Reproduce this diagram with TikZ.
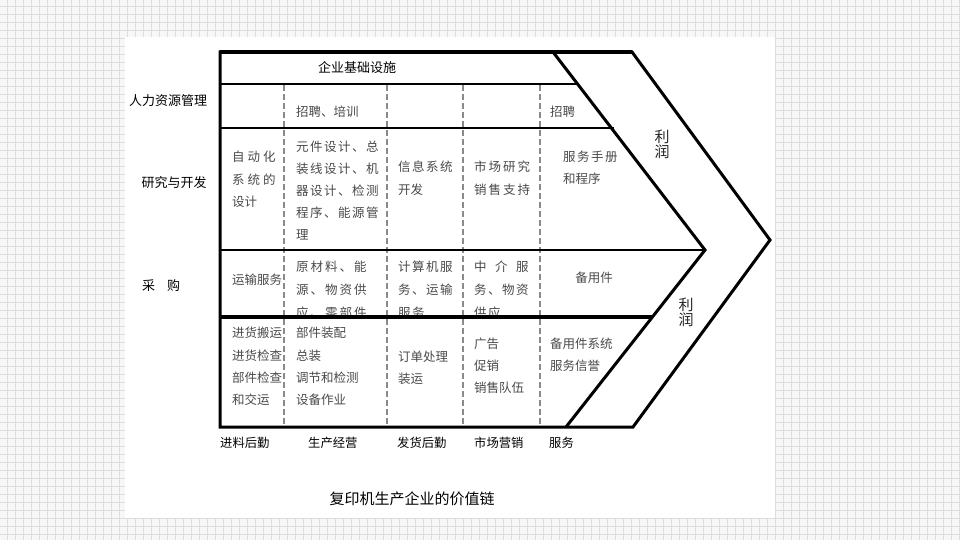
\documentclass[tikz,border=0pt]{standalone}
\usepackage{fontspec}
\IfFontExistsTF{FandolSong}{%
  \newfontfamily\song{FandolSong}}{%
  \IfFontExistsTF{gbsn00lp.ttf}{%
    \newfontfamily\song{gbsn00lp.ttf}}{%
    \newfontfamily\song{Noto Sans CJK SC}}}
\definecolor{gridbg}{HTML}{F7F7F7}
\definecolor{gridln}{HTML}{DDDDDD}
\definecolor{celltext}{HTML}{4A4A4A}
\definecolor{dashc}{HTML}{8A8A8A}
\newcommand\ga{\kern1.5pt}
\newcommand\gb{\kern2pt}
\newcommand\gc{\kern3pt}
\tikzset{
  cell/.style={anchor=west, inner sep=0pt, font=\song\fontsize{12.5}{15}\selectfont, text=celltext},
  sidelab/.style={inner sep=0pt, font=\song\fontsize{13}{15}\selectfont, text=black},
  botlab/.style={anchor=west, inner sep=0pt, font=\song\fontsize{12.3}{15}\selectfont, text=black},
  profit/.style={inner sep=0pt, font=\song\fontsize{15}{15}\selectfont, text=black!85},
  frame/.style={line width=3pt, line join=miter, black},
  rowline/.style={black},
  coldash/.style={draw=dashc, line width=1.8pt, dash pattern=on 6pt off 3pt},
  gridl/.style={draw=gridln, line width=0.9pt}
}
\begin{document}
\begin{tikzpicture}[x=1pt,y=-1pt]
\useasboundingbox (0,0) rectangle (960,540);
% background grid
\fill[gridbg] (0,0) rectangle (960,540);
\foreach \x in {7,15,...,959} \draw[gridl] (\x,0) -- (\x,540);
\foreach \y in {6,14,...,538} \draw[gridl] (0,\y) -- (960,\y);
% white panel
\fill[white] (125,37) rectangle (775,518);

% side labels
\node[sidelab] (hr) at (168,101) {人力资源管理};
\node[sidelab] (rd) at (174,183) {研究与开发};
\node[sidelab] (pc) at (161,286) {采\kern12pt 购};
\node[sidelab] (infra) at (357,68) {企业基础设施};

% HR row
\node[cell] (hr2) at (296,112) {招聘、培训};
\node[cell] (hr5) at (550,112) {招聘};

% R&D row
\foreach \t [count=\i] in {自\gc 动\gc 化, 系\gc 统\gc 的, 设计}
  \node[cell] (rda\i) at (232,{157+22.5*(\i-1)}) {\t};
\foreach \t [count=\i] in {元\ga 件\ga 设\ga 计\ga 、\ga 总, 装\ga 线\ga 设\ga 计\ga 、\ga 机, 器\ga 设\ga 计\ga 、\ga 检\ga 测, 程\ga 序\ga 、\ga 能\ga 源\ga 管, 理}
  \node[cell] (rdb\i) at (296,{147+22*(\i-1)}) {\t};
\foreach \t [count=\i] in {信\ga 息\ga 系\ga 统, 开发}
  \node[cell] (rdc\i) at (398,{167+22.5*(\i-1)}) {\t};
\foreach \t [count=\i] in {市\gb 场\gb 研\gb 究, 销\gb 售\gb 支\gb 持}
  \node[cell] (rdd\i) at (474,{167+22.5*(\i-1)}) {\t};
\foreach \t [count=\i] in {服\ga 务\ga 手\ga 册, 和程序}
  \node[cell] (rde\i) at (563,{157+22*(\i-1)}) {\t};

% procurement row
\node[cell] (pca1) at (232,280) {运输服务};
\foreach \t [count=\i] in {原\gb 材\gb 料\gb 、\gb 能, 源\gb 、\gb 物\gb 资\gb 供, 应\gb 、\gb 零\gb 部\gb 件}
  \node[cell] (pcb\i) at (296,{267+23*(\i-1)}) {\t};
\foreach \t [count=\i] in {计\ga 算\ga 机\ga 服, 务\ga 、\ga 运\ga 输, 服\ga 务}
  \node[cell] (pcc\i) at (398,{267+23*(\i-1)}) {\t};
\foreach \t [count=\i] in {中\kern8.5pt 介\kern8.5pt 服, 务\ga 、\ga 物\ga 资, 供\ga 应}
  \node[cell] (pcd\i) at (474,{267+23*(\i-1)}) {\t};
\node[cell, anchor=center] (pce1) at (594,278) {备用件};

% support row
\foreach \t [count=\i] in {进货搬运, 进货检查, 部件检查, 和交运}
  \node[cell] (spa\i) at (232,{333+22.3*(\i-1)}) {\t};
\foreach \t [count=\i] in {部件装配, 总装, 调节和检测, 设备作业}
  \node[cell] (spb\i) at (296,{333+22.3*(\i-1)}) {\t};
\foreach \t [count=\i] in {订单处理, 装运}
  \node[cell] (spc\i) at (398,{357+22*(\i-1)}) {\t};
\foreach \t [count=\i] in {广告, 促销, 销售队伍}
  \node[cell] (spd\i) at (474,{344+22*(\i-1)}) {\t};
\foreach \t [count=\i] in {备用件系统, 服务信誉}
  \node[cell] (spe\i) at (550,{344+22*(\i-1)}) {\t};

% profit labels
\node[profit] (pa1) at (662,137) {利};
\node[profit] (pa2) at (662,152) {润};
\node[profit] (pb1) at (686,305) {利};
\node[profit] (pb2) at (686,320) {润};

% bottom labels
\node[botlab] (b1) at (220,443) {进料后勤};
\node[botlab] (b2) at (308,443) {生产经营};
\node[botlab] (b3) at (397,443) {发货后勤};
\node[botlab] (b4) at (474,443) {市场营销};
\node[botlab] (b5) at (549,443) {服务};

% title
\node[inner sep=0pt, font=\song\fontsize{15}{18}\selectfont, text=black] (title) at (412,499) {复印机生产企业的价值链};

% column dashed lines
\foreach \x in {284,387,463,540} \draw[coldash] (\x,85) -- (\x,426);

% row lines
\draw[rowline, line width=2.8pt] (220,84) -- (577,84);
\draw[rowline, line width=1.8pt] (220,128) -- (614,128);
\draw[rowline, line width=2.2pt] (220,250) -- (705,250);
\draw[rowline, line width=4pt] (220,317) -- (653,317);

% outer chevron frame
\draw[frame] (220,52) -- (632,52) -- (770,240) -- (633,427) -- (220,427) -- cycle;
\draw[line width=3.6pt] (220,52) -- (632,52);
% inner chevron
\draw[frame] (553,52) -- (705,250) -- (566,427);
\end{tikzpicture}
\end{document}
